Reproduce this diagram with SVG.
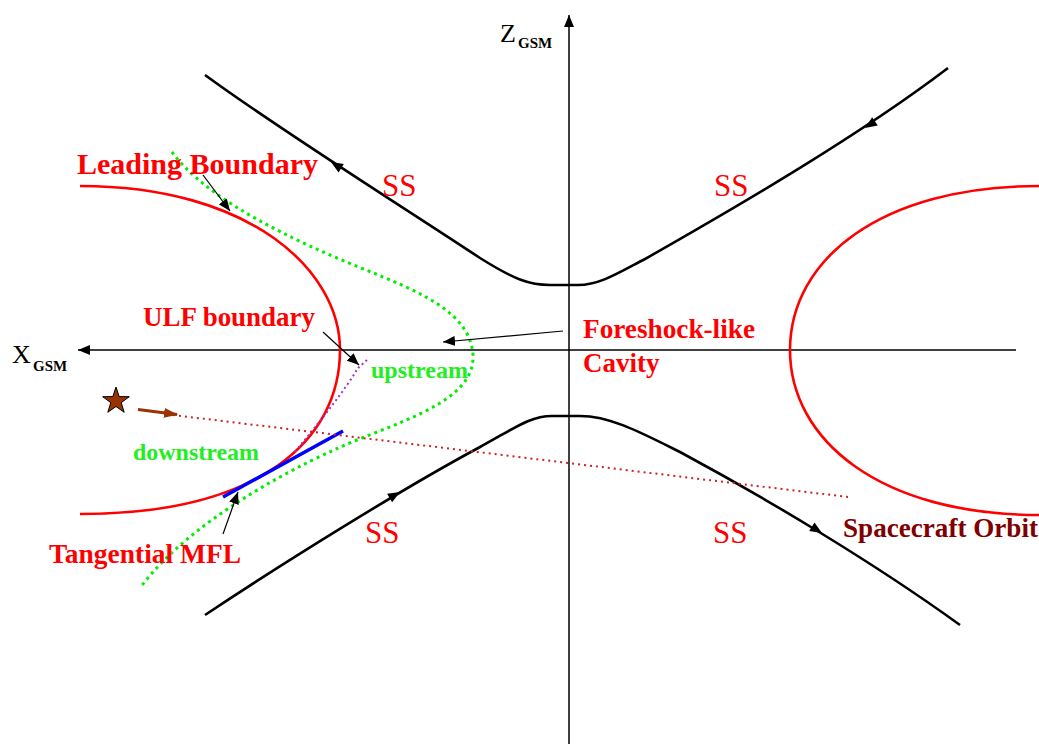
<svg xmlns="http://www.w3.org/2000/svg" width="1039" height="744" viewBox="0 0 1039 744">
<style>
.lbl{font-family:"Liberation Serif","Times New Roman",serif;font-weight:bold;fill:#ff0000}
.ss{font-family:"Liberation Serif","Times New Roman",serif;font-size:31px;fill:#ff0000}
.ax{font-family:"Liberation Serif","Times New Roman",serif;fill:#000}
.hyp{fill:none;stroke:#000;stroke-width:2.6;stroke-linejoin:round}
.shock{fill:none;stroke:#ff0000;stroke-width:2.6}
.ann{fill:none;stroke:#000;stroke-width:1.2}
</style>
<defs>
<marker id="ah" markerWidth="12" markerHeight="10" refX="12" refY="5" orient="auto" markerUnits="userSpaceOnUse">
<path d="M0,0 L12,5 L0,10 Z" fill="#000"/>
</marker>
<marker id="ahb" markerWidth="14" markerHeight="10" refX="13" refY="5" orient="auto" markerUnits="userSpaceOnUse">
<path d="M0,0 L14,5 L0,10 Z" fill="#993300"/>
</marker>
<path id="tri" d="M0,0 L-12,-5 L-12,5 Z" fill="#000"/>
</defs>
<rect width="1039" height="744" fill="#fff"/>

<g id="axes">
<line x1="1016" y1="350" x2="78" y2="350" stroke="#000" stroke-width="1.5" marker-end="url(#ah)"/>
<line x1="569" y1="744" x2="569" y2="15" stroke="#000" stroke-width="1.5" marker-end="url(#ah)"/>
</g>
<g id="x-label">
<text class="ax" x="12" y="363" font-size="26">X</text>
<text class="ax" x="33" y="371" font-size="15" font-weight="bold">GSM</text>
</g>
<g id="z-label">
<text class="ax" x="500" y="42" font-size="26">Z</text>
<text class="ax" x="518" y="48" font-size="15" font-weight="bold">GSM</text>
</g>

<g id="shock-left">
<path class="shock" d="M80,186 C250,186 340,270 340,350 C340,440 260,514 80,514"/>
</g>
<g id="shock-right">
<path class="shock" d="M1039,186 C880,186 790,260 790,350 C790,440 880,515 1039,515"/>
</g>

<g id="upper-flowline">
<path class="hyp" d="M205,75 C280,130 400,205 480,258 C515,280 530,285 550,285 L578,285 C600,285 620,272 645,259 C740,205 860,135 948,68"/>
<use href="#tri" transform="translate(331,162) rotate(212)"/>
<use href="#tri" transform="translate(865,128) rotate(146)"/>
</g>
<g id="lower-flowline">
<path class="hyp" d="M205,615 C280,565 400,490 480,447 C515,428 530,416 552,416 L580,416 C610,416 640,432 680,452 C760,495 870,560 960,625"/>
<use href="#tri" transform="translate(400,492) rotate(-30)"/>
<use href="#tri" transform="translate(822,533) rotate(32)"/>
</g>

<g id="ulf-boundary-curve">
<path fill="none" stroke="#00ee00" stroke-width="3" stroke-dasharray="3,4" d="M172,152 C200,190 260,225 337,258 C400,285 470,305 473,355 C475,395 420,415 367,436 C300,462 190,520 140,588"/>
</g>
<g id="purple-line">
<path fill="none" stroke="#9933cc" stroke-width="2" stroke-dasharray="2,3" d="M367,360 L358,368 C345,390 325,415 295,452"/>
</g>
<g id="tangential-mfl-line">
<line x1="223" y1="497" x2="343" y2="431" stroke="#0000ff" stroke-width="3.5"/>
</g>
<g id="spacecraft-orbit">
<line x1="173" y1="415" x2="848" y2="497" stroke="#cc2222" stroke-width="2" stroke-dasharray="2,4"/>
</g>
<g id="star">
<polygon points="116,387 119.2,396.6 129.3,396.7 121.2,402.7 124.2,412.3 116,406.5 107.8,412.3 110.8,402.7 102.7,396.7 112.8,396.6" fill="#993300" stroke="#000" stroke-width="1"/>
<line x1="138" y1="409.5" x2="177" y2="414.5" stroke="#993300" stroke-width="3" marker-end="url(#ahb)"/>
</g>

<g id="connectors">
<line class="ann" x1="203" y1="175" x2="230" y2="211" marker-end="url(#ah)"/>
<line class="ann" x1="323" y1="332" x2="359" y2="365" marker-end="url(#ah)"/>
<line class="ann" x1="563" y1="331" x2="443" y2="342" marker-end="url(#ah)"/>
<line class="ann" x1="223" y1="534" x2="238" y2="492" marker-end="url(#ah)"/>
</g>

<g id="leading-boundary"><text class="lbl" x="77" y="174" font-size="30" textLength="241" lengthAdjust="spacingAndGlyphs">Leading Boundary</text></g>
<g id="ulf-boundary"><text class="lbl" x="143" y="326" font-size="27" textLength="172" lengthAdjust="spacingAndGlyphs">ULF boundary</text></g>
<g id="upstream"><text class="lbl" x="371" y="378" font-size="24" style="fill:#22ee22" textLength="97" lengthAdjust="spacingAndGlyphs">upstream</text></g>
<g id="downstream"><text class="lbl" x="133" y="460" font-size="24" style="fill:#22ee22" textLength="126" lengthAdjust="spacingAndGlyphs">downstream</text></g>
<g id="tangential-mfl"><text class="lbl" x="49" y="563" font-size="27" textLength="192" lengthAdjust="spacingAndGlyphs">Tangential MFL</text></g>
<g id="foreshock-cavity">
<text class="lbl" x="583" y="338" font-size="27" textLength="172" lengthAdjust="spacingAndGlyphs">Foreshock-like</text>
<text class="lbl" x="583" y="372" font-size="27">Cavity</text>
</g>
<g id="spacecraft-orbit-label"><text class="lbl" x="843" y="537" font-size="27" style="fill:#800000" textLength="195" lengthAdjust="spacingAndGlyphs">Spacecraft Orbit</text></g>
<g id="ss-labels">
<text class="ss" x="382" y="196">SS</text>
<text class="ss" x="714" y="196">SS</text>
<text class="ss" x="365" y="543">SS</text>
<text class="ss" x="713" y="543">SS</text>
</g>
</svg>
